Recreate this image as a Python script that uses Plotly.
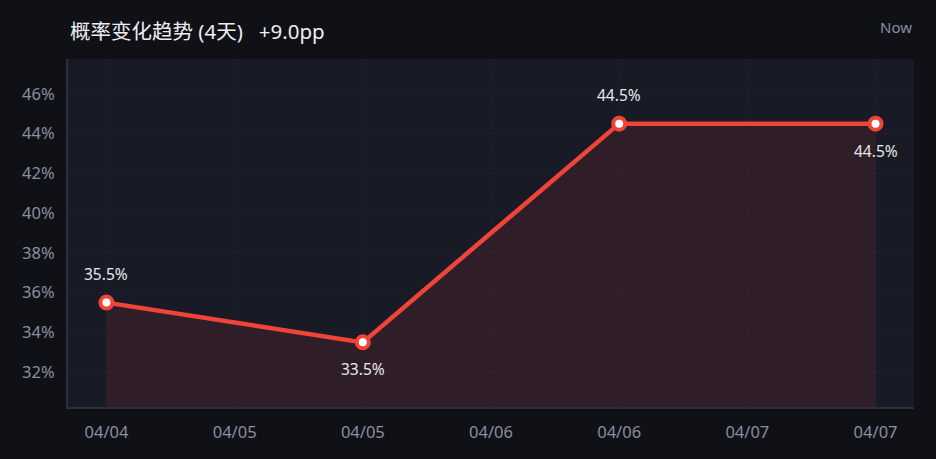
import plotly.graph_objects as go

# 数据
days = [0, 1, 2, 3]
probs = [35.5, 33.5, 44.5, 44.5]
labels = ["35.5%", "33.5%", "44.5%", "44.5%"]
label_side = ["above", "below", "above", "below"]
tick_pos = [0, 0.5, 1, 1.5, 2, 2.5, 3]
tick_text = ["04/04", "04/05", "04/05", "04/06", "04/06", "04/07", "04/07"]
y_ticks = [32, 34, 36, 38, 40, 42, 44, 46]

RED = "#f04438"
FONT = "Noto Sans, Noto Sans CJK SC, sans-serif"

fig = go.Figure()
fig.add_trace(go.Scatter(
    x=days,
    y=probs,
    mode="lines+markers",
    line=dict(color=RED, width=4.5),
    marker=dict(size=12, color="white", line=dict(color=RED, width=4)),
    fill="tozeroy",
    fillcolor="rgba(240,68,56,0.11)",
    hoverinfo="skip",
))

# 数值标签
annos = []
for d, p, t, side in zip(days, probs, labels, label_side):
    annos.append(dict(
        x=d, y=p, text=t, showarrow=False,
        yshift=29 if side == "above" else -27,
        font=dict(size=15.5, color="#e8e8ec", family=FONT),
    ))

annos += [
    dict(text="概率变化趋势 (4天)&nbsp;&nbsp; +9.0pp", xref="paper", yref="paper",
         x=0, y=1, xanchor="left", yanchor="bottom", yshift=12, showarrow=False,
         font=dict(size=20.5, color="#eeeef2", family=FONT)),
    dict(text="Now", xref="paper", yref="paper",
         x=1, y=1, xanchor="right", yanchor="bottom", yshift=20, showarrow=False,
         font=dict(size=15, color="#8a8ea0", family=FONT)),
]

fig.update_layout(
    width=936, height=459,
    paper_bgcolor="#101116",
    plot_bgcolor="#181a26",
    font=dict(family=FONT, color="#8a8ea0"),
    margin=dict(l=68, r=22, t=59, b=52),
    showlegend=False,
    xaxis=dict(
        range=[-0.15, 3.15],
        tickvals=tick_pos,
        ticktext=tick_text,
        showgrid=True, gridcolor="#20222e", griddash="3px,3px",
        zeroline=False,
        showline=True, linecolor="#2c2e3c", linewidth=2,
        tickfont=dict(size=16.5, color="#8a8ea0"),
        ticks="", ticklabelstandoff=9,
    ),
    yaxis=dict(
        range=[30.25, 47.75],
        tickvals=y_ticks,
        ticktext=[f"{v}%" for v in y_ticks],
        showgrid=True, gridcolor="#20222e", griddash="3px,3px",
        zeroline=False,
        showline=True, linecolor="#2c2e3c", linewidth=2,
        tickfont=dict(size=16.5, color="#8a8ea0"),
        ticks="", ticklabelstandoff=8,
    ),
    annotations=annos,
)

fig.write_html("out.html", config={"displayModeBar": False},
               post_script="document.body.style.margin='0';")
